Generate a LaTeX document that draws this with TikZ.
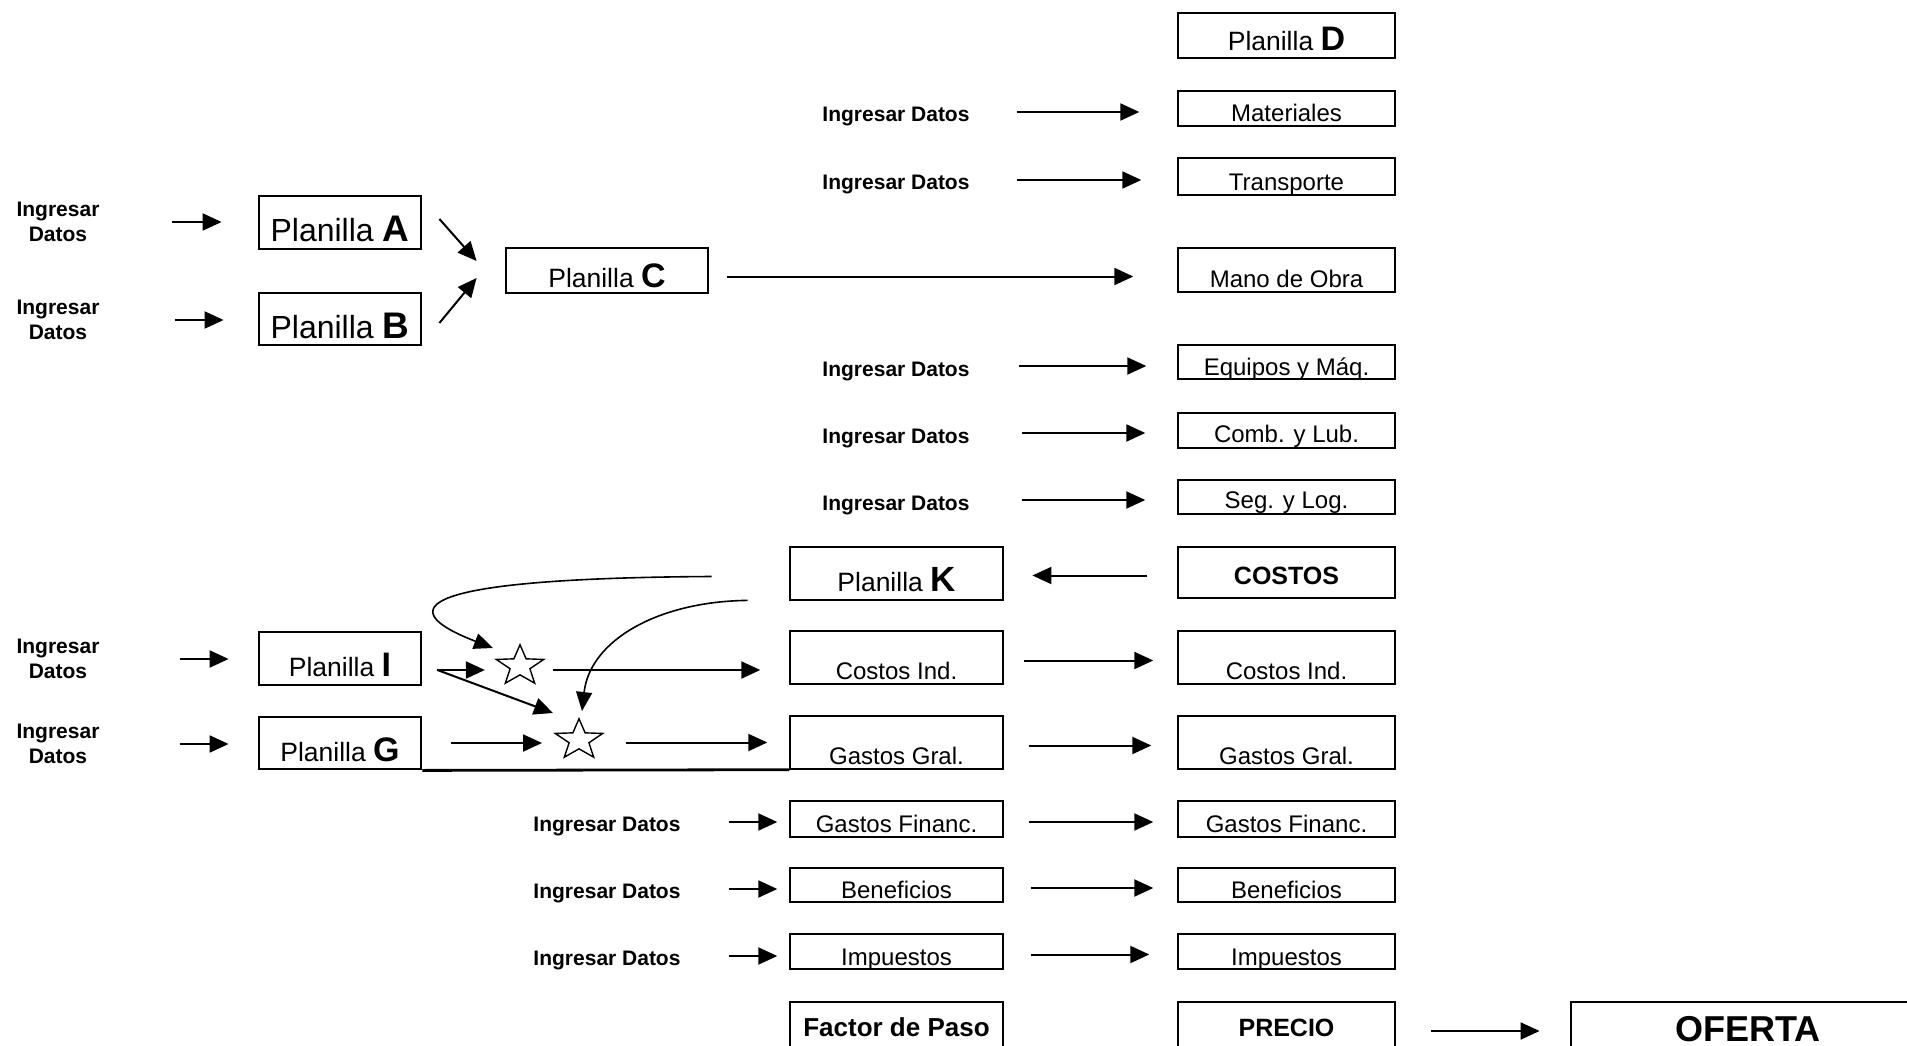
\documentclass[tikz,border=0pt]{standalone}
\usepackage{fontspec}
\setmainfont{Liberation Sans}
\usetikzlibrary{arrows.meta,calc,positioning,shapes.geometric}
\newcommand{\fsz}[2]{\fontsize{#1}{#2}\selectfont}
\newcommand{\pl}[3]{{\fsz{#1}{#1}Planilla {\fsz{#2}{#2}\bfseries #3}}}

\tikzset{
  box/.style={draw, line width=1.4pt, inner sep=0pt, font=\fsz{24}{28}},
  thickbox/.style={box, line width=2.8pt},
  hd/.style 2 args={text height=#1, text depth=#2},
  colr/.style={minimum width=217pt},
  colm/.style={minimum width=213pt},
  colp/.style={minimum width=162pt},
  ingr/.style={inner sep=0pt, font=\fsz{21}{25}\bfseries, align=center},
  arr/.style={line width=2pt, -{Triangle[length=19pt,width=17pt]}},
  carr/.style={line width=1.6pt, -{Triangle[length=19pt,width=16pt]}},
  star5/.style={draw, star, star points=5, star point ratio=2.4, minimum size=50pt, inner sep=0pt, line width=1.4pt}
}

\begin{document}
\begin{tikzpicture}[x=1pt, y=-1pt]
\path[use as bounding box, fill=white] (0,0) rectangle (1907,1046);

% planillas A, B, C
\node[ingr] (inA) at (58,222) {Ingresar\\Datos};
\node[ingr] (inB) at (58,320) {Ingresar\\Datos};
\node[thickbox, colp, hd={45pt}{8pt}] (pA) at (340,222.5) {\pl{32}{37}{A}};
\node[thickbox, colp, hd={45pt}{7pt}] (pB) at (340,319) {\pl{32}{37}{B}};
\node[thickbox, minimum width=202pt, hd={39pt}{6pt}] (pC) at (607,270.5) {\pl{26.5}{34}{C}};

% planilla D
\node[thickbox, colr, hd={38pt}{7pt}] (pD) at (1286.5,35.5) {\pl{26.5}{34}{D}};
\node[box, colr, hd={31pt}{4pt}] (mat) at (1286.5,108.5) {Materiales};
\node[box, colr, hd={32pt}{5pt}] (tra) at (1286.5,176.5) {Transporte};
\node[box, colr, hd={39pt}{5pt}] (mano) at (1286.5,270) {Mano de Obra};
\node[box, colr, hd={30pt}{4pt}] (equ) at (1286.5,362) {Equipos y Máq.};
\node[box, colr, hd={29pt}{6pt}] (comb) at (1286.5,430.5) {Comb. y Lub.};
\node[box, colr, hd={28pt}{6pt}] (seg) at (1286.5,497) {Seg. y Log.};
\node[box, colr, hd={37pt}{14pt}, font=\fsz{25}{28}\bfseries] (costos) at (1286.5,572.5) {COSTOS};
\node[box, colr, hd={48pt}{5pt}] (ci2) at (1286.5,657.5) {Costos Ind.};
\node[box, colr, hd={48pt}{5pt}] (gg2) at (1286.5,742.5) {Gastos Gral.};
\node[box, colr, hd={31pt}{5pt}] (gf2) at (1286.5,819) {Gastos Financ.};
\node[box, colr, hd={30pt}{4pt}] (be2) at (1286.5,885) {Beneficios};
\node[box, colr, hd={31pt}{4pt}] (im2) at (1286.5,951.5) {Impuestos};
\node[thickbox, colr, hd={34pt}{24pt}, font=\fsz{25}{28}\bfseries] (precio) at (1286.5,1031) {PRECIO};
\node[thickbox, minimum width=354pt, hd={39pt}{19pt}, font=\fsz{36}{40}\bfseries] (oferta) at (1748,1031) {OFERTA};

\node[ingr] (in1) at (896,117) {Ingresar Datos};
\node[ingr] (in2) at (896,185) {Ingresar Datos};
\node[ingr] (in3) at (896,371) {Ingresar Datos};
\node[ingr] (in4) at (896,438) {Ingresar Datos};
\node[ingr] (in5) at (896,505) {Ingresar Datos};

% columna central
\node[thickbox, colm, hd={44pt}{9pt}] (pK) at (896.5,573.5) {\pl{26.5}{35}{K}};
\node[box, colm, hd={48pt}{5pt}] (ci1) at (896.5,657.5) {Costos Ind.};
\node[box, colm, hd={48pt}{5pt}] (gg1) at (896.5,742.5) {Gastos Gral.};
\node[box, colm, hd={31pt}{5pt}] (gf1) at (896.5,819) {Gastos Financ.};
\node[box, colm, hd={30pt}{4pt}] (be1) at (896.5,885) {Beneficios};
\node[box, colm, hd={31pt}{4pt}] (im1) at (896.5,951.5) {Impuestos};
\node[thickbox, colm, hd={34pt}{24pt}, font=\fsz{26}{28}\bfseries] (fdp) at (896.5,1031) {Factor de Paso};

\node[ingr] (in6) at (607,826) {Ingresar Datos};
\node[ingr] (in7) at (607,893) {Ingresar Datos};
\node[ingr] (in8) at (607,960) {Ingresar Datos};

% planillas I, G
\node[ingr] (inI) at (58,659) {Ingresar\\Datos};
\node[ingr] (inG) at (58,744) {Ingresar\\Datos};
\node[thickbox, colp, hd={44pt}{9pt}] (pI) at (340,658.5) {\pl{26.5}{34}{I}};
\node[thickbox, colp, hd={44pt}{8pt}] (pG) at (340,743) {\pl{26.5}{34}{G}};
\node[star5, yscale=.85, transform shape] (s1) at (520,666) {};
\node[star5, yscale=.85, transform shape] (s2) at (579,740) {};
\coordinate (fork) at ($(pI.east)+(15,11.5)$);

% flechas
\foreach \t/\b/\s/\e in {inA/pA/72/36, inB/pB/75/34, inI/pI/80/29, inG/pG/80/29}
  \draw[arr, shorten <=\s pt, shorten >=\e pt] (\t.east) -- (\t.east -| \b.west);
\draw[arr] ($(pA.east)+(17,-3.5)$) -- ($(pC.west)+(-28,-9.5)$);
\draw[arr] ($(pB.east)+(17,4)$) -- ($(pC.west)+(-28,7.5)$);
\draw[arr, shorten <=18pt, shorten >=44pt] ([yshift=-6pt]pC.east) -- ([yshift=-6pt]pC.east -| mano.west);
\foreach \t/\b/\s/\e in {in1/mat/47/38, in2/tra/47/36, in3/equ/49/31, in4/comb/52/32, in5/seg/52/32}
  \draw[arr, shorten <=\s pt, shorten >=\e pt] ([yshift=5pt]\t.east) -- ([yshift=5pt]\t.east -| \b.west);
\draw[arr, shorten <=30pt, shorten >=28pt] ([yshift=-3pt]costos.west) -- ([yshift=-3pt]costos.west -| pK.east);
\foreach \a/\b/\s/\e in {ci1/ci2/20/24, gg1/gg2/25/26, gf1/gf2/25/24, be1/be2/27/24, im1/im2/27/28}
  \draw[arr, shorten <=\s pt, shorten >=\e pt] ([yshift=-3pt]\a.east) -- ([yshift=-3pt]\b.west);
\foreach \t/\b in {in6/gf1, in7/be1, in8/im1}
  \draw[arr, shorten <=48pt, shorten >=12pt] ([yshift=4pt]\t.east) -- ([yshift=4pt]\t.east -| \b.west);
\draw[arr, shorten <=35pt, shorten >=30pt] (precio.east) -- (oferta.west);

% estrellas
\draw[arr, shorten >=20pt] (fork) -- (fork -| s1.west);
\draw[arr] (fork) -- ($(s2)+(-26,-27)$);
\draw[arr] ($(s1)+(33,4)$) -- ($(s1 -| ci1.west)+(-29,4)$);
\draw[arr, shorten <=29pt, shorten >=37pt] (pG.east) -- (pG.east -| s2.center);
\draw[arr, shorten <=47pt, shorten >=22pt] (s2.center |- gg1.west) -- (gg1.west);
\draw[carr] ($(pK.west)+(-77,3)$) .. controls +(-353,2) and +(-73,-28) .. ($(s1)+(-27,-18)$);
\draw[carr] ($(pK.south west)+(-41,-1)$) .. controls +(-89,1) and +(8,-71) .. ($(s2)+(3,-29)$);
\draw[line width=2.8pt] (pG.south east) -- (gg1.south west);
\end{tikzpicture}
\end{document}
